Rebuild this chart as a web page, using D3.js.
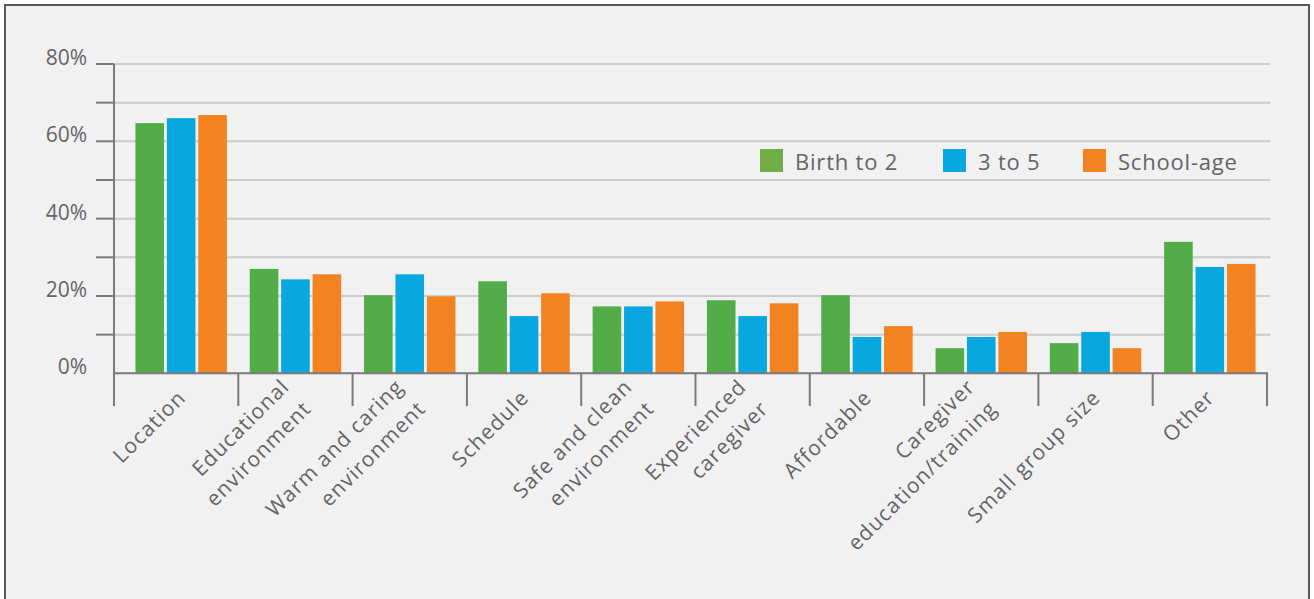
<!DOCTYPE html>
<html>
<head>
<meta charset="utf-8">
<script src="https://cdn.jsdelivr.net/npm/d3@7"></script>
<style>
	body { margin: 0; background: #ffffff; }
	svg { display: block; font-family: "Open Sans", "Noto Sans", sans-serif; }
</style>
</head>
<body>
<svg id="chart" width="1314" height="599"></svg>
<script>
// Data
var categories = ["Location", "Educational\nenvironment", "Warm and caring\nenvironment", "Schedule",
	"Safe and clean\nenvironment", "Experienced\ncaregiver", "Affordable",
	"Caregiver\neducation/training", "Small group size", "Other"];
var seriesNames = ["Birth to 2", "3 to 5", "School-age"];
var birthTo2 = [64.7, 27, 20.2, 23.8, 17.3, 18.9, 20.2, 6.5, 7.8, 34];
var threeTo5 = [66, 24.3, 25.6, 14.8, 17.3, 14.8, 9.4, 9.4, 10.7, 27.5];
var schoolAge = [66.8, 25.6, 19.9, 20.7, 18.6, 18.1, 12.2, 10.7, 6.5, 28.3];
var yTicks = [0, 20, 40, 60, 80];
var yMinorTicks = [10, 20, 30, 40, 50, 60, 70, 80];

var barColors = ["#52ad48", "#09a7df", "#f38321"];
var legendColors = ["#70ad47", "#09a7df", "#f38321"];
var textColor = "#646466";
var axisColor = "#7a7a7c";

var svg = d3.select("#chart");

// Frame
svg.append("rect")
	.attr("x", 5).attr("y", 5)
	.attr("width", 1304).attr("height", 610)
	.attr("fill", "#f1f1f1")
	.attr("stroke", "#5a5a5c")
	.attr("stroke-width", 2);

var axisX = 114;
var y = d3.scaleLinear().domain([0, 80]).range([373.3, 64]);
var x0 = d3.scaleBand().domain(categories).range([124, 1267]).paddingInner(0.2).paddingOuter(0.1);
var x1 = d3.scaleBand().domain(seriesNames).range([0, x0.bandwidth()]).paddingInner(0.09);

// Gridlines
svg.append("g").selectAll("line").data(yMinorTicks).join("line")
	.attr("x1", axisX).attr("x2", 1270)
	.attr("y1", function(d) { return y(d); })
	.attr("y2", function(d) { return y(d); })
	.attr("stroke", "#cbcbcb")
	.attr("stroke-width", 2);

// Y axis ticks
svg.append("g").selectAll("line").data(yMinorTicks).join("line")
	.attr("x1", 96).attr("x2", axisX)
	.attr("y1", function(d) { return y(d); })
	.attr("y2", function(d) { return y(d); })
	.attr("stroke", axisColor)
	.attr("stroke-width", 2);

svg.append("g").selectAll("text").data(yTicks).join("text")
	.attr("x", 87)
	.attr("y", function(d) { return y(d) + 1; })
	.attr("text-anchor", "end")
	.style("font-size", "21px")
	.style("fill", textColor)
	.text(function(d) { return d + "%"; });

// Bars
var seriesData = [birthTo2, threeTo5, schoolAge];
var groups = svg.append("g").selectAll("g").data(categories).join("g")
	.attr("transform", function(d) { return "translate(" + x0(d) + ",0)"; });

groups.selectAll("rect")
	.data(function(d, i) {
		return seriesNames.map(function(s, j) { return {series: s, idx: j, value: seriesData[j][i]}; });
	})
	.join("rect")
	.attr("x", function(d) { return x1(d.series); })
	.attr("width", x1.bandwidth())
	.attr("y", function(d) { return y(d.value); })
	.attr("height", function(d) { return y(0) - y(d.value); })
	.attr("fill", function(d) { return barColors[d.idx]; });

// X axis line + category separators
var step = x0.step();
var halfGap = step * x0.paddingInner() / 2;
var sepX = [axisX].concat(categories.map(function(d) { return x0(d) + x0.bandwidth() + halfGap; }));

svg.append("line")
	.attr("x1", axisX).attr("x2", sepX[sepX.length - 1] + 1)
	.attr("y1", y(0)).attr("y2", y(0))
	.attr("stroke", axisColor).attr("stroke-width", 2);

svg.append("line")
	.attr("x1", axisX).attr("x2", axisX)
	.attr("y1", y(80)).attr("y2", y(0))
	.attr("stroke", axisColor).attr("stroke-width", 2);

svg.append("g").selectAll("line").data(sepX).join("line")
	.attr("x1", function(d) { return d; })
	.attr("x2", function(d) { return d; })
	.attr("y1", y(0)).attr("y2", 406)
	.attr("stroke", axisColor).attr("stroke-width", 2);

// Category labels (rotated)
var lineH = 31;
var labels = svg.append("g").selectAll("text").data(categories).join("text")
	.attr("transform", function(d) {
		return "translate(" + (x0(d) + x0.bandwidth() / 2 + 6) + ",399) rotate(-45)";
	})
	.attr("text-anchor", "end")
	.style("font-size", "21px")
	.style("letter-spacing", "1.1px")
	.style("fill", textColor);

labels.each(function(d) {
	var lines = d.split(/\n/);
	var t = d3.select(this);
	for (var i = 0; i < lines.length; i++) {
		t.append("tspan")
			.attr("x", 0)
			.attr("y", (i - (lines.length - 1) / 2) * lineH)
			.text(lines[i]);
	}
});

// Legend
var legendX = [760, 943, 1083];
var legend = svg.append("g").selectAll("g").data(seriesNames).join("g")
	.attr("transform", function(d, i) { return "translate(" + legendX[i] + ",149)"; });

legend.append("rect")
	.attr("width", 23).attr("height", 23)
	.attr("fill", function(d, i) { return legendColors[i]; });

legend.append("text")
	.attr("x", 35).attr("y", 21)
	.style("font-size", "22px")
	.style("letter-spacing", "0.8px")
	.style("fill", textColor)
	.text(function(d) { return d; });
</script>
</body>
</html>
